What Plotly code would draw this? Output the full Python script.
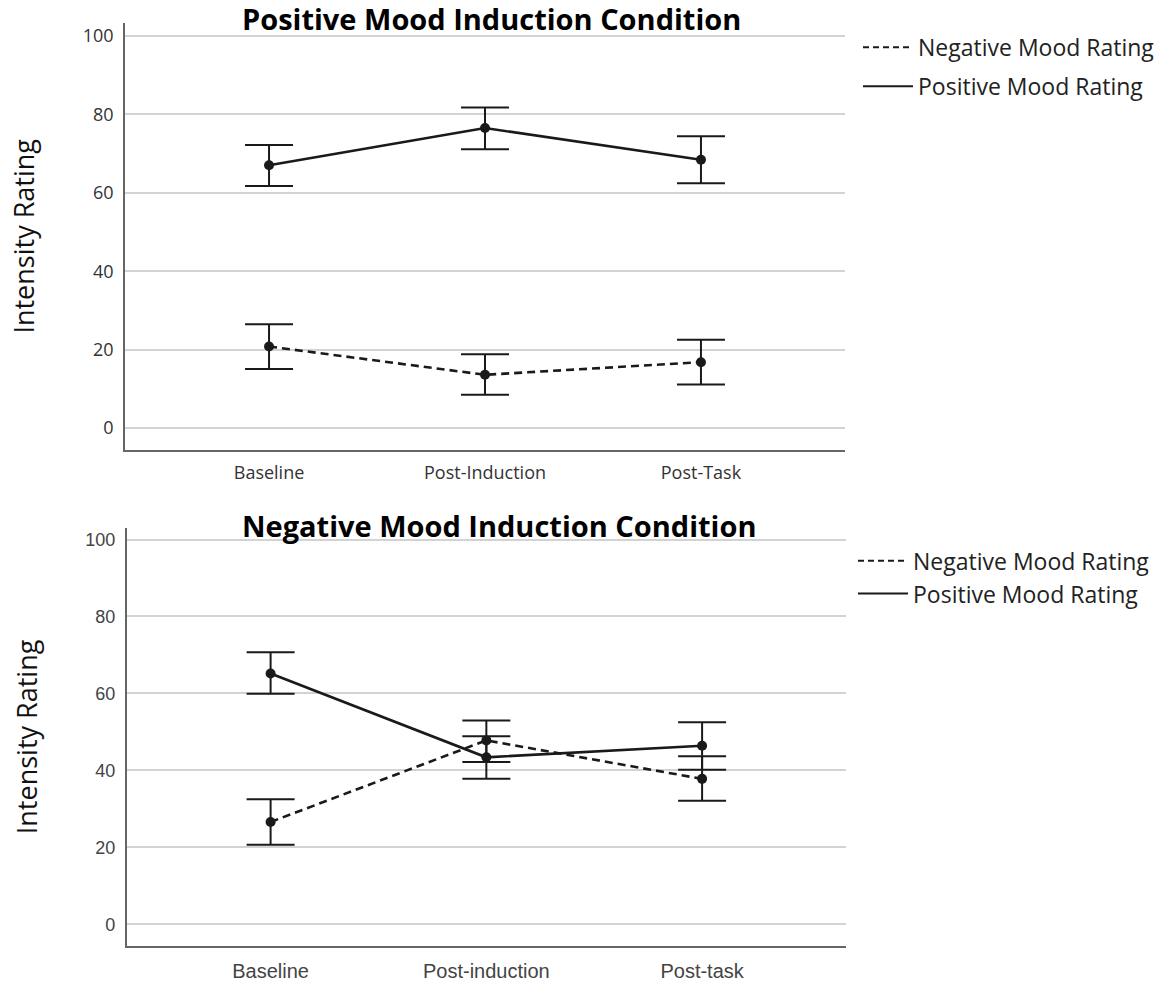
import plotly.graph_objects as go

# ---- data ----
cats_top = ["Baseline", "Post-Induction", "Post-Task"]
cats_bot = ["Baseline", "Post-induction", "Post-task"]

# Positive mood induction condition
top_pos_mean = [67.0, 76.5, 68.4]
top_pos_upper = [72.2, 81.7, 74.4]
top_pos_lower = [61.7, 71.1, 62.4]
top_neg_mean = [20.8, 13.6, 16.8]
top_neg_upper = [26.5, 18.8, 22.5]
top_neg_lower = [15.1, 8.5, 11.1]

# Negative mood induction condition
bot_pos_mean = [65.2, 43.4, 46.4]
bot_pos_upper = [70.7, 48.9, 52.5]
bot_pos_lower = [59.9, 37.8, 40.2]
bot_neg_mean = [26.6, 47.8, 37.8]
bot_neg_upper = [32.5, 53.0, 43.7]
bot_neg_lower = [20.7, 42.2, 32.1]

y_ticks = [0, 20, 40, 60, 80, 100]

W, H = 1162, 982
INK = "#1a1a1a"


def err(mean, upper, lower):
    return dict(type="data", symmetric=False,
                array=[u - m for u, m in zip(upper, mean)],
                arrayminus=[m - l for m, l in zip(mean, lower)],
                color=INK, thickness=2, width=24)


def series(x, mean, upper, lower, dash, xa, ya):
    return go.Scatter(x=x, y=mean, mode="lines+markers", xaxis=xa, yaxis=ya,
                      line=dict(color=INK, width=2.6, dash=dash),
                      marker=dict(color=INK, size=10),
                      error_y=err(mean, upper, lower), showlegend=False)


fig = go.Figure()
fig.add_trace(series(cats_top, top_pos_mean, top_pos_upper, top_pos_lower, "solid", "x", "y"))
fig.add_trace(series(cats_top, top_neg_mean, top_neg_upper, top_neg_lower, "8px,5px", "x", "y"))
fig.add_trace(series(cats_bot, bot_pos_mean, bot_pos_upper, bot_pos_lower, "solid", "x2", "y2"))
fig.add_trace(series(cats_bot, bot_neg_mean, bot_neg_upper, bot_neg_lower, "8px,5px", "x2", "y2"))

# legend-only entries
for leg, xa, ya, cats in (("legend", "x", "y", cats_top), ("legend2", "x2", "y2", cats_bot)):
    fig.add_trace(go.Scatter(x=[cats[0]], y=[None], mode="lines", xaxis=xa, yaxis=ya,
                             name="Negative Mood Rating", legend=leg, legendgroup=leg + "n",
                             line=dict(color=INK, width=2, dash="6px,4px")))
    fig.add_trace(go.Scatter(x=[cats[0]], y=[None], mode="lines", xaxis=xa, yaxis=ya,
                             name="Positive Mood Rating", legend=leg, legendgroup=leg + "p",
                             line=dict(color=INK, width=2)))

grid = dict(showgrid=True, gridcolor="#d3d3d3", gridwidth=1.5, zeroline=False,
            showline=True, linecolor="#666666", linewidth=1.5, ticks="")

fig.update_layout(
    width=W, height=H, margin=dict(l=0, r=0, t=0, b=0),
    paper_bgcolor="white", plot_bgcolor="white",
    xaxis=dict(domain=[125 / W, 845 / W], anchor="y", range=[-0.667, 2.667],
               showgrid=False, zeroline=False, showline=True, linecolor="#666666",
               linewidth=1.5, ticks="", ticklabelstandoff=6,
               tickfont=dict(family="Open Sans", size=18, color="#333333")),
    yaxis=dict(domain=[1 - 452 / H, 1 - 23 / H], anchor="x", range=[-5.5, 103.3],
               tickvals=y_ticks, ticklabelstandoff=6,
               tickfont=dict(family="Open Sans", size=18, color="#333333"),
               title=dict(text="Intensity Rating", standoff=40,
                          font=dict(family="Open Sans", size=27, color="#111111")),
               **grid),
    xaxis2=dict(domain=[126.7 / W, 846 / W], anchor="y2", range=[-0.667, 2.667],
                showgrid=False, zeroline=False, showline=True, linecolor="#666666",
                linewidth=1.5, ticks="", ticklabelstandoff=6,
                tickfont=dict(family="Liberation Sans, Arial", size=20, color="#444444")),
    yaxis2=dict(domain=[1 - 950.7 / H, 1 - 530.7 / H], anchor="x2", range=[-5.6, 103.0],
                tickvals=y_ticks, ticklabelstandoff=6,
                tickfont=dict(family="Liberation Sans, Arial", size=18, color="#444444"),
                title=dict(text="Intensity Rating", standoff=40,
                           font=dict(family="Open Sans", size=27, color="#111111")),
                **grid),
    legend=dict(x=858 / W, y=1 - 26 / H, xanchor="left", yanchor="top",
                bgcolor="rgba(0,0,0,0)", tracegroupgap=6, itemwidth=50,
                font=dict(family="Open Sans", size=23, color="#222222")),
    legend2=dict(x=853 / W, y=1 - 542 / H, xanchor="left", yanchor="top",
                 bgcolor="rgba(0,0,0,0)", tracegroupgap=0, itemwidth=50,
                 font=dict(family="Open Sans", size=23, color="#222222")),
    annotations=[
        dict(text="<b>Positive Mood Induction Condition</b>", xref="paper", yref="paper",
             x=491 / W, y=1 - 19 / H, xanchor="center", yanchor="middle", showarrow=False,
             font=dict(family="Open Sans", size=29, color="#000000")),
        dict(text="<b>Negative Mood Induction Condition</b>", xref="paper", yref="paper",
             x=499 / W, y=1 - 528 / H, xanchor="center", yanchor="middle", showarrow=False,
             font=dict(family="Open Sans", size=29, color="#000000")),
    ],
)

fig.write_html("out.html")
